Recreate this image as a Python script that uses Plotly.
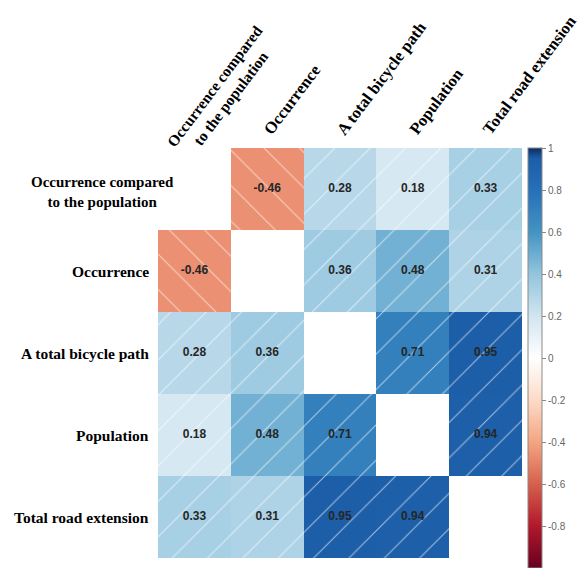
import plotly.graph_objects as go

# Correlation matrix of the five variables (diagonal left blank in the plot)
variables = [
    "Occurrence compared<br>to the population",
    "Occurrence",
    "A total bicycle path",
    "Population",
    "Total road extension",
]
corr = [
    [1.00, -0.46, 0.28, 0.18, 0.33],
    [-0.46, 1.00, 0.36, 0.48, 0.31],
    [0.28, 0.36, 1.00, 0.71, 0.95],
    [0.18, 0.48, 0.71, 1.00, 0.94],
    [0.33, 0.31, 0.95, 0.94, 1.00],
]
colorbar_ticks = [1, 0.8, 0.6, 0.4, 0.2, 0, -0.2, -0.4, -0.6, -0.8, -1]
colorbar_labels = ["1", "0.8", "0.6", "0.4", "0.2", "0", "-0.2", "-0.4", "-0.6", "-0.8", "-1"]

# Diverging red-white-blue palette
rdbu = [
    [0.00, "#67001F"],
    [0.10, "#B2182B"],
    [0.20, "#D6604D"],
    [0.30, "#F4A582"],
    [0.40, "#FDDBC7"],
    [0.50, "#FFFFFF"],
    [0.60, "#D1E5F0"],
    [0.70, "#92C5DE"],
    [0.80, "#4393C3"],
    [0.90, "#2670B8"],
    [0.975, "#1C5EA8"],
    [1.00, "#0A2D62"],
]

n = len(variables)
idx = list(range(n))

# Blank out the diagonal
z = [[None if r == c else corr[r][c] for c in range(n)] for r in range(n)]

xs, ys, bases, hatch, labels = [], [], [], [], []
for r in range(n):
    for c in range(n):
        if r == c:
            continue
        v = corr[r][c]
        xs.append(c)
        ys.append(r)
        bases.append(r - 0.5)
        hatch.append("/" if v > 0 else "\\")
        labels.append(f"{v:.2f}")

fig = go.Figure()

fig.add_trace(go.Heatmap(
    x=idx,
    y=idx,
    z=z,
    zmin=-1,
    zmax=1,
    colorscale=rdbu,
    hoverinfo="skip",
    colorbar=dict(
        x=370 / 364,
        xanchor="left",
        xpad=0,
        y=1,
        yanchor="top",
        ypad=0,
        len=420,
        lenmode="pixels",
        thickness=14,
        outlinewidth=1,
        outlinecolor="#8a8a8a",
        tickmode="array",
        tickvals=colorbar_ticks,
        ticktext=colorbar_labels,
        ticks="outside",
        ticklen=4,
        tickcolor="#888888",
        tickfont=dict(family="Liberation Sans", size=10, color="#666666"),
    ),
))

# Diagonal hatching over every coloured cell: "/" for positive, "\" for negative
fig.add_trace(go.Bar(
    x=xs,
    y=[1] * len(xs),
    base=bases,
    width=1,
    marker=dict(
        color="rgba(0,0,0,0)",
        line=dict(width=0),
        pattern=dict(
            shape=hatch,
            fillmode="replace",
            fgcolor="white",
            fgopacity=0.6,
            size=25,
            solidity=0.04,
        ),
    ),
    hoverinfo="skip",
    showlegend=False,
))

# Coefficient labels in the centre of each cell
fig.add_trace(go.Scatter(
    x=xs,
    y=ys,
    mode="text",
    text=labels,
    textfont=dict(family="Liberation Sans", size=12, color="#262626", weight="bold"),
    hoverinfo="skip",
    showlegend=False,
))

annotations = []
# Row labels on the left
for r, name in enumerate(variables):
    two_line = "<br>" in name
    annotations.append(dict(
        x=0, xref="paper", xanchor="right",
        xshift=18 if two_line else -7,
        y=r, yref="y", yanchor="middle",
        yshift=-3 if two_line else 0,
        text=f"<b>{name}</b>",
        align="center",
        showarrow=False,
        font=dict(family="Liberation Serif", size=15 if two_line else 15.5, color="black"),
    ))
# Column labels on top, slanted
for c, name in enumerate(variables):
    two_line = "<br>" in name
    annotations.append(dict(
        x=c, xref="x", xanchor="left",
        xshift=-34 if two_line else -10,
        y=1, yref="paper", yanchor="bottom",
        yshift=-17 if two_line else 7,
        text=f"<b>{name}</b>",
        align="center",
        textangle=-53,
        showarrow=False,
        font=dict(family="Liberation Serif", size=15.5 if two_line else 16.5, color="black"),
    ))

fig.update_layout(
    width=580,
    height=568,
    margin=dict(l=158, r=58, t=148, b=10),
    paper_bgcolor="white",
    plot_bgcolor="white",
    annotations=annotations,
    bargap=0,
    xaxis=dict(range=[-0.5, n - 0.5], showgrid=False, zeroline=False,
               showticklabels=False, ticks="", fixedrange=True),
    yaxis=dict(range=[n - 0.5, -0.5], showgrid=False, zeroline=False,
               showticklabels=False, ticks="", fixedrange=True),
)

fig.write_html("out.html")
